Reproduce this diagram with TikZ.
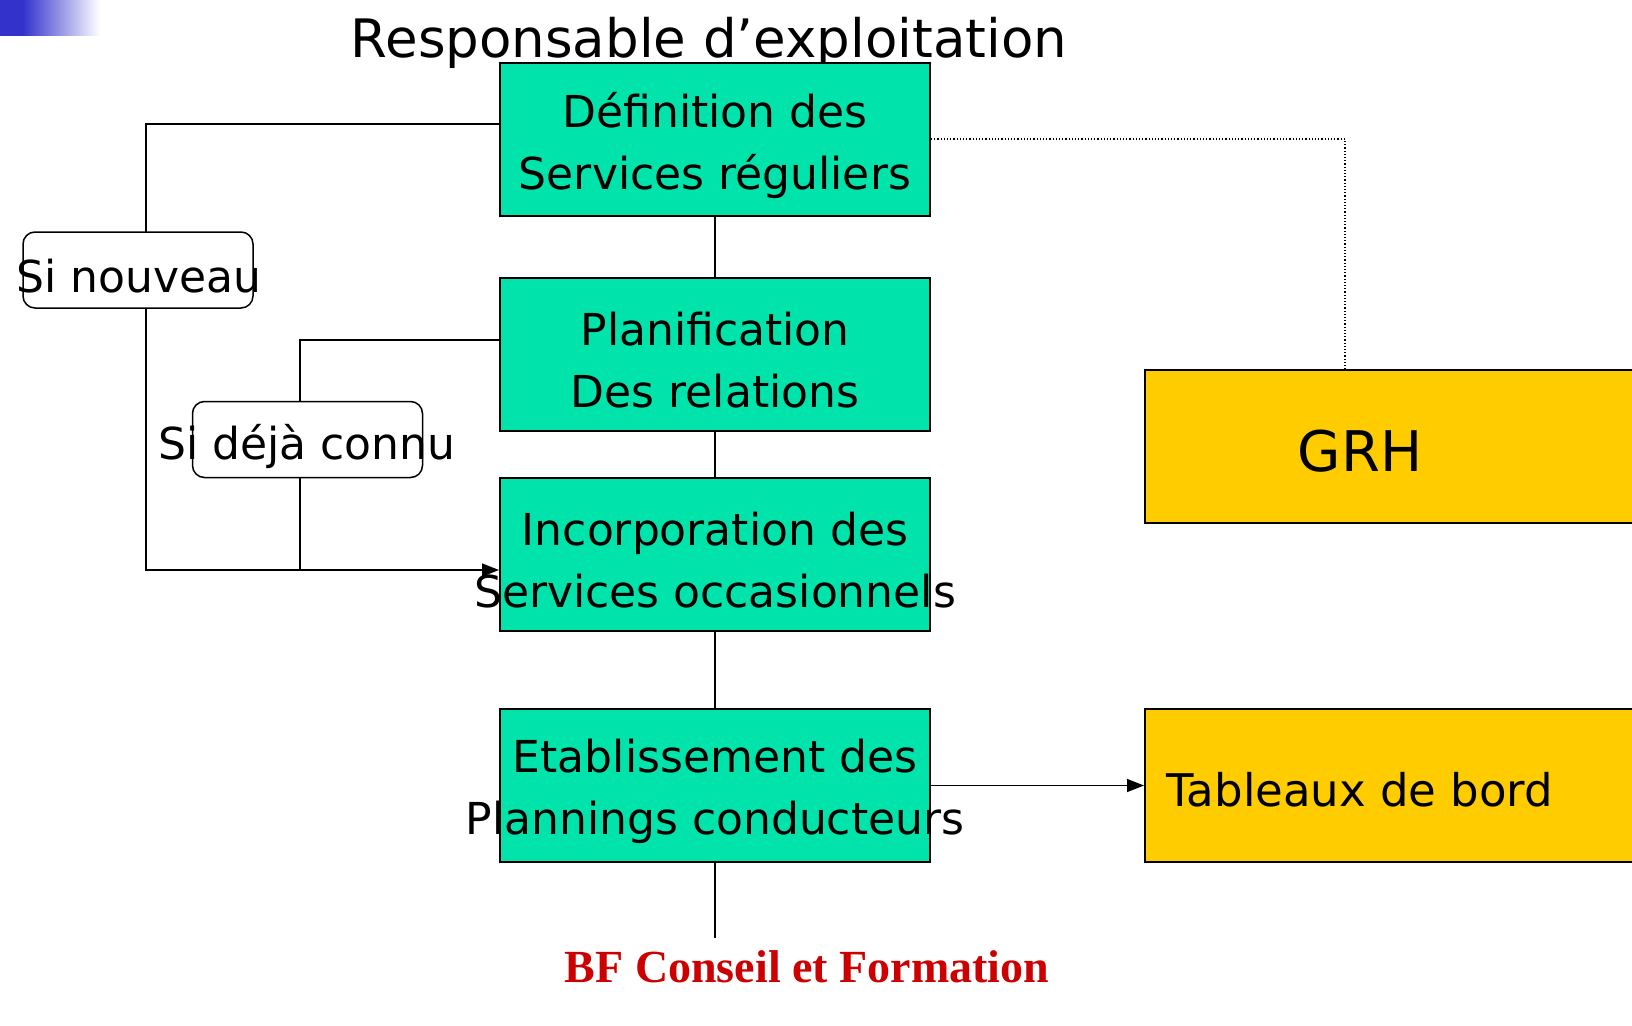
\documentclass[tikz,border=0pt]{standalone}
\usepackage{fontspec}
\setmainfont{DejaVu Sans}
\newfontfamily\signfont{Liberation Serif}
\usetikzlibrary{arrows.meta}

\definecolor{boxgreen}{RGB}{0,227,170}
\definecolor{boxyellow}{RGB}{255,204,0}
\definecolor{barblue}{RGB}{51,51,204}
\definecolor{signred}{RGB}{204,0,0}

\tikzset{
  stepbox/.style={draw, line width=2pt, fill=boxgreen, minimum width=430pt, minimum height=153pt, inner sep=0pt},
  outbox/.style={draw, line width=2pt, fill=boxyellow, minimum width=500pt, minimum height=153pt, inner sep=0pt},
  boxtext/.style={align=center, inner sep=0pt, font=\fontsize{44}{62}\selectfont},
  condbox/.style={draw, line width=1.5pt, fill=white, rounded corners=12pt, minimum width=230pt, minimum height=76pt, inner sep=0pt},
  link/.style={line width=1.5pt}
}

\begin{document}
\begin{tikzpicture}[x=1pt,y=-1pt]
    \useasboundingbox (0,0) rectangle (1632,1025);

    % Corner bar
    \fill[barblue] (0,0) rectangle (23,36);
    \shade[left color=barblue, right color=white] (23,0) rectangle (100,36);

    % Title
    \node[anchor=base, inner sep=0pt, font=\fontsize{53}{62}\selectfont] (title) at (709,58) {Responsable d’exploitation};

    % Main steps
    \node[stepbox] (def) at (715,139.5) {};
    \node[stepbox] (plan) at (715,354.5) {};
    \node[stepbox] (inc) at (715,554.5) {};
    \node[stepbox] (etab) at (715,785.5) {};

    % Outputs
    \node[outbox] (grh) at (1395,446.5) {};
    \node[outbox] (tab) at (1395,785.5) {};

    % Links
    \draw[link] (def) -- (plan);
    \draw[link] (plan) -- (inc);
    \draw[link] (inc) -- (etab);
    \coordinate (foot) at (715,938);
    \draw[link] (etab) -- (foot);
    \draw[link, -{Triangle[length=17pt,width=13pt]}] ([yshift=15.5pt]def.west) -- (146,124) |- ([yshift=-15.5pt]inc.west);
    \draw[link] ([yshift=14.5pt]plan.west) -| (300,570);
    \draw[line width=1.2pt, dotted] ([yshift=0.5pt]def.east) -| ([xshift=-50pt]grh.north);
    \draw[link, -{Triangle[length=17pt,width=13pt]}] (etab) -- (tab);

    % Conditions
    \node[condbox] (nouv) at (138,270) {};
    \node[boxtext] at (139,276) {Si nouveau};
    \node[condbox] (connu) at (307.5,439.5) {};
    \node[boxtext] at (307,446) {Si déjà connu};

    % Texts
    \node[boxtext] at (715,145) {Définition des\\Services réguliers};
    \node[boxtext] at (715,360) {Planification\\Des relations};
    \node[boxtext] at (715,560) {Incorporation des\\Services occasionnels};
    \node[boxtext] at (715,791) {Etablissement des\\Plannings conducteurs};
    \node[boxtext, font=\fontsize{56}{62}\selectfont] at (1360,451) {GRH};
    \node[boxtext, font=\fontsize{45}{62}\selectfont] at (1360,790) {Tableaux de bord};

    % Signature
    \node[anchor=base, inner sep=0pt, text=signred, font=\signfont\bfseries\fontsize{46}{50}\selectfont] (sign) at (807,982) {BF Conseil et Formation};
\end{tikzpicture}
\end{document}
